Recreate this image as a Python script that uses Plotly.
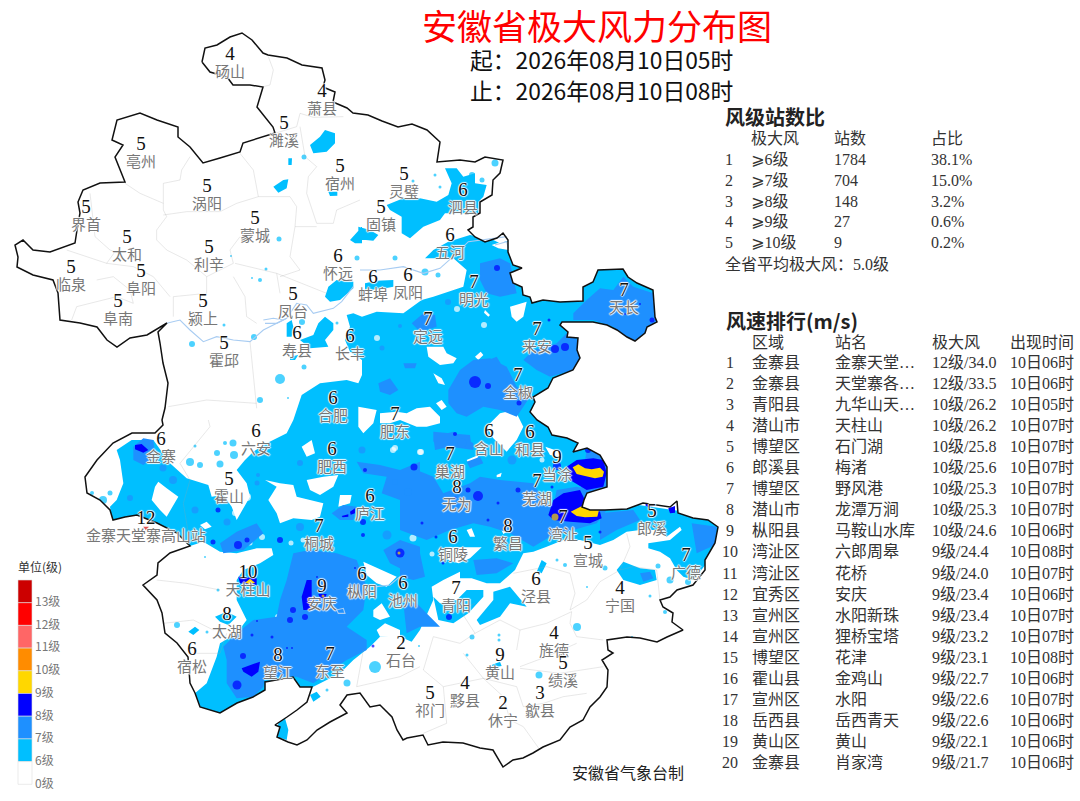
import plotly.graph_objects as go

W, H = 1080, 801

# ---------- table + legend + label data ----------
LEVEL_COLORS = ["#CC0000", "#FF0000", "#FF6666", "#FF8C00", "#FFD700", "#0000FF", "#1E90FF", "#00BFFF", "#FFFFFF"]
LEVEL_LABELS = ["13级", "12级", "11级", "10级", "9级", "8级", "7级", "6级", "0级"]

STAT_LEVEL = ["⩾6级", "⩾7级", "⩾8级", "⩾9级", "⩾10级"]
STAT_COUNT = ["1784", "704", "148", "27", "9"]
STAT_SHARE = ["38.1%", "15.0%", "3.2%", "0.6%", "0.2%"]

RANK_AREA = ["金寨县", "金寨县", "青阳县", "潜山市", "博望区", "郎溪县", "博望区", "潜山市", "枞阳县", "湾沚区",
             "湾沚区", "宜秀区", "宣州区", "宣州区", "博望区", "霍山县", "宣州区", "岳西县", "黄山区", "金寨县"]
RANK_STATION = ["金寨天堂…", "天堂寨各…", "九华山天…", "天柱山", "石门湖", "梅渚", "野风港", "龙潭万涧", "马鞍山水库", "六郎周皋",
                "花桥", "安庆", "水阳新珠", "狸桥宝塔", "花津", "金鸡山", "水阳", "岳西青天", "黄山", "肖家湾"]
RANK_WIND = ["12级/34.0", "12级/33.5", "10级/26.2", "10级/26.2", "10级/25.8", "10级/25.6", "10级/25.3", "10级/25.3", "10级/24.6", "9级/24.4",
             "9级/24.0", "9级/23.4", "9级/23.4", "9级/23.2", "9级/23.1", "9级/22.7", "9级/22.6", "9级/22.6", "9级/22.1", "9级/21.7"]
RANK_TIME = ["10日06时", "10日06时", "10日05时", "10日07时", "10日07时", "10日07时", "10日07时", "10日07时", "10日06时", "10日08时",
             "10日07时", "10日06时", "10日07时", "10日07时", "10日08时", "10日06时", "10日07时", "10日06时", "10日06时", "10日06时"]

CITY = ["砀山","萧县","濉溪","亳州","宿州","灵璧","泗县","涡阳","固镇","蒙城","界首","太和","利辛","五河","临泉","阜阳","怀远","蚌埠","凤阳","明光",
        "阜南","颍上","凤台","霍邱","寿县","长丰","定远","来安","天长","全椒","合肥","肥东","六安","金寨","含山","和县","肥西","巢湖","当涂","霍山",
        "庐江","无为","芜湖","金寨天堂寨高山站","桐城","繁昌","湾沚","郎溪","铜陵","宣城","广德","天柱山","枞阳","安庆","池州","青阳","泾县","宁国","太湖","宿松",
        "望江","东至","石台","旌德","黄山","绩溪","黟县","祁门","歙县","休宁"]
CITY_VALUE = ["4","4","5","5","5","5","6","5","5","5","5","5","5","6","5","5","6","6","6","7",
              "5","5","5","5","6","6","7","7","7","7","6","7","6","6","6","6","6","7","9","5",
              "6","8","7","12","7","8","7","5","6","5","7","10","6","9","6","7","6","4","8","6",
              "8","7","2","4","9","5","4","5","3","2"]
CITY_X = [230,322,284,141,340,404,463,207,381,255,86,127,209,450,71,141,338,373,408,474,
          118,203,293,224,297,350,428,537,624,518,333,395,256,161,489,530,332,450,557,229,
          370,457,537,146,319,508,563,652,453,588,686,248,362,322,403,456,536,620,227,192,
          278,330,401,554,500,563,465,430,540,503]
CITY_Y = [55,92,124,145,167,175,191,187,208,219,208,238,248,236,268,272,257,278,276,283,
          302,302,295,344,334,337,320,330,291,376,399,415,432,440,432,433,450,455,458,480,
          497,488,482,519,527,527,518,512,538,544,556,573,575,587,584,589,580,589,615,650,
          656,655,644,634,656,664,684,694,694,704]

# ---------- map geometry (pixel positions on the map image) ----------
PROVINCE = [(202,62),(205,48),(217,45),(230,37),(242,33),(252,40),(263,53),(268,55),(287,58),(302,65),(322,68),(325,80),(323,87),(335,92),(333,102),(347,108),(353,113),
 (368,115),(382,121),(398,127),(412,124),(427,130),(440,142),(437,162),(460,160),(475,162),(485,157),(503,160),(500,173),(493,180),(492,195),(480,202),(480,213),(473,217),(473,227),(468,230),(475,237),(485,242),(497,238),(503,233),(508,240),(508,252),(513,265),(522,268),(510,273),(513,283),(522,287),(523,295),(530,297),(532,303),(543,300),(560,302),(583,301),(583,287),(593,282),(598,270),(623,269),(628,277),(637,283),(653,290),(655,317),(657,322),(647,327),(645,333),(635,341),(627,337),(617,330),(607,325),(593,322),(573,322),(562,322),(560,325),(568,332),(567,337),(578,338),(577,350),(580,358),(573,370),(553,378),(548,388),(533,397),(535,402),(530,412),(537,420),(548,427),(552,435),(567,438),(578,443),(573,452),(587,448),(600,455),(607,467),(607,487),(587,493),(584,500),(582,507),(590,510),(605,510),(627,509),(643,503),(657,505),(670,507),(677,501),(678,513),(693,518),(708,520),(718,527),(715,543),(705,560),(705,570),(693,585),(677,590),(670,597),(660,600),(663,607),(673,613),(672,622),(683,630),(667,637),(657,642),(640,638),(627,637),(607,640),(608,650),(613,653),(602,660),(608,670),(607,687),(600,697),(590,707),(583,720),(570,727),(560,740),(543,747),(533,753),(523,758),(513,760),(503,767),(493,750),(480,748),(463,743),(443,742),(428,745),(423,735),(407,738),
 (403,740),(397,730),(392,717),(380,705),(370,707),(360,693),(347,695),(340,705),(347,713),(330,722),(317,730),(307,740),(297,745),(288,742),(277,737),(280,727),(275,725),(287,717),(297,710),(307,702),(312,687),(300,687),(293,677),(265,682),(265,690),(253,697),(237,703),(220,713),(200,707),(195,693),(190,683),(188,657),(177,643),(165,633),(162,613),(157,600),(143,585),(157,575),(158,563),(170,553),(187,547),(190,546),(177,533),(157,523),(137,515),(125,517),(113,520),(110,510),(100,500),(87,493),(85,477),(97,460),(113,443),(132,433),(155,433),(163,425),(162,420),
 (165,408),(168,383),(163,363),(160,343),(158,332),(167,323),(147,335),(130,338),(117,347),(107,340),(97,327),(80,323),(60,320),(58,293),(53,280),(33,275),(17,267),(18,257),(15,245),(23,240),(33,250),(50,252),(75,243),(77,230),(80,213),(78,202),(83,190),(100,183),(125,182),(115,157),(123,145),(112,140),(117,120),(140,113),(157,120),(178,127),(178,137),(190,147),(203,163),(220,158),(240,152),(243,143),(263,137),(275,133),(273,127),(263,115),(257,107),(263,87),(250,85),(233,85),(227,77),(210,72)]

def z(ox, oy, pts):
    return [(ox + a / 3, oy + b / 3) for a, b in pts]

Z6, Z7, Z8, Z9 = (0, 30), (360, 130), (80, 420), (400, 430)

WIND6_MAIN = (
 z(*Z8, [(345,820),(380,790),(410,710),(420,670),(470,640),(500,600),(470,540),(470,480),(490,450),(540,430),(580,405),(575,385),(530,385),(470,400),(420,395),(370,365),(330,378),(260,370),(100,330),(90,260),(110,240),(130,190),(120,120),(110,90),(155,60),(220,60),(270,130),(320,175),(385,195),(395,230),(430,225),(455,260),(470,300),(510,230),(500,190),(470,150),(495,120),(520,95),(560,70),(620,40),(640,0)])
 + z(*Z6, [(905,1095),(960,1060),(1040,1050),(1075,1060),(1086,1035),(1086,990),(1050,965),(1035,930),(1050,890),(1040,855),(1060,850),(1086,860)])
 + z(*Z7, [(50,545),(130,550),(185,510),(220,500),(310,470),(320,420),(280,385),(240,385),(195,385),(220,360),(265,335),(330,315),(400,330),(420,340),(450,330),(470,400),(560,440),(640,420),(720,380),(840,380),(950,480),(950,660),(760,720),(640,760)])
 + z(*Z9, [(640,0),(680,120),(680,220),(960,260),(960,340),(920,400),(880,450),(850,440),(830,420),(810,385),(780,365),(745,355),(745,340),(780,335),(810,330),(845,300),(840,290),(800,320),(770,300),(720,300),(680,305),(640,330),(600,345),(540,330),(490,330),(440,350),(400,365),(370,370),(345,420),(300,460),(260,460),(215,445),(180,445),(180,425),(130,450),(95,470),(100,510),(60,600),(35,635),(0,620)])
 + z(*Z8, [(960,645),(900,650),(870,680),(820,720),(780,760),(700,800),(650,830),(500,880),(350,880)])
)

WIND6_BLOBS = [
 z(*Z7, [(80,225),(130,205),(180,205),(230,215),(265,195),(275,160),(255,115),(290,115),(310,140),(345,130),(345,160),(380,165),(370,200),(355,215),(355,250),(300,250),(255,250),(240,270),(190,290),(150,325),(125,310),(125,260),(90,240)]),
 z(*Z7, [(-5,290),(30,300),(55,315),(40,332),(-5,328)]),
 z(*Z7, [(15,460),(50,452),(100,450),(100,470),(60,478),(15,480)]),
 z(*Z6, [(930,345),(960,320),(975,300),(1005,310),(1005,340),(980,365),(940,370)]),
 z(*Z6, [(820,470),(850,450),(865,448),(860,475),(835,488)]),
 z(*Z6, [(865,385),(876,385),(875,405),(865,405)]),
 z(*Z6, [(985,485),(1012,485),(1012,497),(990,498)]),
 z(*Z6, [(1050,630),(1086,590),(1086,640),(1065,640)]),
 z(*Z6, [(975,800),(985,770),(1010,750),(1060,755),(1060,775),(1020,810),(990,815)]),
 z(*Z6, [(860,880),(875,870),(880,890),(875,920),(860,920)]),
 z(*Z6, [(900,930),(940,915),(955,880),(975,860),(1000,880),(1000,900),(975,930),(985,950),(930,955)]),
 z(*Z6, [(870,980),(895,975),(885,990),(870,990)]),
 z(*Z9, [(650,420),(670,395),(720,415),(765,420),(770,450),(720,465),(670,450)]),
 z(*Z9, [(410,425),(425,390),(440,400),(425,430)]),
 z(*Z9, [(280,485),(330,470),(380,530),(330,520),(300,560),(240,585),(230,570),(280,510)]),
 z(*Z9, [(250,480),(250,500),(205,550),(160,580),(115,570),(100,500),(120,520),(170,510),(200,480)]),
 z(*Z9, [(275,705),(300,695),(305,708),(280,712)]),
 z(*Z8, [(405,590),(440,575),(470,590),(445,615),(420,605)]),
 z(*Z8, [(325,635),(345,620),(358,630),(340,645)]),
 z(*Z8, [(690,825),(710,815),(722,830),(700,845)]),
 z(*Z8, [(595,910),(615,895),(625,930),(620,960),(590,950)]),
]

WIND_HOLES = [
 z(*Z7, [(200,650),(250,650),(260,670),(290,685),(280,700),(240,705),(205,680)]),
 z(*Z7, [(345,680),(362,665),(370,675),(355,690)]),
 z(*Z7, [(450,530),(500,515),(490,560),(470,575),(455,560)]),
 z(*Z7, [(375,540),(390,555),(385,560),(372,548)]),
 z(*Z7, [(220,730),(245,745),(255,765),(235,760)]),
 z(*Z7, [(228,820),(245,810),(260,830),(245,840)]),
 z(*Z7, [(60,850),(110,845),(140,850),(170,835),(210,830),(240,860),(240,880),(200,890),(170,890),(120,870),(90,880),(60,880)]),
 z(*Z7, [(-5,830),(50,840),(40,880),(10,910),(-5,890)]),
 z(*Z7, [(380,890),(420,850),(465,840),(490,890),(470,930),(440,965),(400,925)]),
 z(*Z7, [(320,990),(355,975),(350,995),(325,1000)]),
 z(*Z7, [(556,950),(600,965),(600,980),(570,975)]),
 z(*Z7, [(395,345),(425,335),(445,335),(445,360),(415,355)]),
 z(*Z8, [(665,80),(695,60),(705,100),(680,110)]),
 z(*Z8, [(565,240),(590,200),(555,180),(600,190),(640,195),(650,230),(690,240),(730,250),(720,290),(695,300),(640,295),(600,310),(590,280)]),
 z(*Z8, [(680,180),(730,170),(775,165),(760,200),(720,225),(690,210)]),
 z(*Z8, [(780,225),(815,225),(810,250),(775,260)]),
 z(*Z8, [(225,200),(235,185),(260,205),(295,230),(260,290),(240,270),(215,240)]),
 z(*Z8, [(360,315),(380,305),(395,320),(375,328)]),
 z(*Z8, [(850,425),(885,440),(950,470),(920,500),(890,490),(860,465)]),
 z(*Z8, [(880,570),(905,550),(930,590),(900,600),(880,590)]),
 z(*Z8, [(890,630),(915,610),(960,630),(960,650),(900,650)]),
 z(*Z8, [(770,560),(785,555),(800,575),(785,585)]),
 z(*Z9, [(290,135),(305,128),(302,140),(290,142)]),
 z(*Z9, [(360,220),(385,205),(395,225),(365,232)]),
 z(*Z9, [(300,290),(325,270),(338,295),(310,312)]),
 z(*Z9, [(200,300),(215,295),(225,320),(210,320)]),
 z(*Z9, [(120,380),(150,352),(245,352),(210,385),(175,400)]),
]
HOLE_DOTS_X = [377,457,484,262,250,291,303,312,332,278,247,413,393,235,421,435,432,420,395,542,587]
HOLE_DOTS_Y = [338,309,325,537,543,543,540,569,583,617,497,538,450,513,452,522,554,452,448,460,485]
HOLE_DOTS_S = [6,6,6,6,5,5,5,6,6,6,8,7,6,6,6,7,5,6,6,5,5]

WIND6_SPOTS_X = [192,224,254,279,231,266,260,252,304,357,337,302,280,304,260,288,495,472,482,435,413,440,395,425,438,190,200,220,217,234,233,225,195,110,92,103,177,207,205,218,347,375,327,472,499,499,467,539,577,605,565,557,587,650,665,632,658,670,688,419]
WIND6_SPOTS_Y = [344,325,337,239,256,269,280,278,157,258,323,322,379,367,400,398,163,175,180,175,181,187,258,272,275,462,465,464,453,455,443,443,446,493,493,500,625,632,557,590,683,667,690,637,635,640,655,675,627,568,565,560,587,596,612,637,566,580,582,646]
WIND6_SPOTS_S = [6,3,6,5,2,3,4,2,5,5,3,6,10,5,6,2,7,6,5,3,3,3,5,7,5,8,6,7,6,8,7,4,3,5,4,8,6,3,2,3,7,12,3,5,3,3,3,7,8,5,4,3,2,3,4,2,5,7,6,2]

WIND7_AREAS = [
 z(*Z7, [(360,400),(420,385),(450,400),(470,490),(420,500),(380,490),(360,450)]),
 z(*Z7, [(155,580),(190,550),(225,555),(230,590),(180,605)]),
 z(*Z7, [(265,780),(300,720),(340,690),(390,685),(440,710),(470,770),(510,800),(470,860),(420,840),(370,830),(320,860),(290,850),(265,820)]),
 z(*Z7, [(490,690),(520,660),(590,640),(620,610),(655,630),(660,680),(640,720),(570,740),(530,720)]),
 z(*Z7, [(640,550),(680,510),(720,475),(760,480),(790,440),(820,470),(880,490),(890,580),(820,640),(760,590),(700,570),(640,570)]),
 z(*Z7, [(55,760),(90,745),(115,780),(90,795),(60,785)]),
 z(*Z7, [(220,920),(280,905),(340,940),(340,960),(270,950),(225,960)]),
 z(*Z7, [(130,700),(170,700),(165,715),(135,715)]),
 z(*Z7, [(385,690),(410,680),(425,705),(395,710)]),
 z(*Z8, [(430,680),(470,640),(520,600),(590,590),(600,540),(620,480),(640,400),(690,390),(770,400),(830,420),(860,500),(850,570),(800,620),(860,660),(860,690),(800,720),(700,790),(650,770),(555,770),(550,800),(520,830),(470,835),(440,790),(440,720)]),
 z(*Z8, [(910,390),(960,360),(1020,380),(1020,450),(970,450),(930,430)]),
 z(*Z8, [(830,125),(900,135),(960,150),(1020,125),(1020,250),(960,240),(905,220),(920,170),(850,160)]),
 z(*Z8, [(420,370),(470,335),(530,310),(550,340),(490,390),(430,400)]),
 z(*Z8, [(160,80),(190,55),(220,60),(225,110),(190,135),(160,120)]),
 z(*Z8, [(755,280),(790,255),(830,260),(820,300),(780,300)]),
 z(*Z9, [(0,150),(50,120),(100,140),(130,190),(210,160),(240,140),(300,150),(400,160),(430,210),(460,230),(470,180),(530,170),(610,190),(620,240),(590,280),(520,300),(450,320),(400,350),(330,310),(270,290),(220,280),(150,300),(80,330),(0,300)]),
 z(*Z9, [(100,5),(210,15),(215,55),(180,50),(140,35),(100,35)]),
 z(*Z9, [(220,390),(290,385),(340,400),(290,430),(230,435)]),
 z(*Z9, [(0,350),(60,370),(75,440),(40,450),(0,440)]),
 z(*Z9, [(10,520),(50,520),(90,560),(120,590),(60,590),(20,610)]),
 z(*Z9, [(600,250),(700,240),(720,270),(650,300),(600,330)]),
 z(*Z9, [(875,280),(950,290),(945,345),(890,370)]),
 z(*Z9, [(720,430),(750,425),(760,445),(730,455)]),
 z(*Z9, [(200,95),(240,80),(250,100),(210,115)]),
 z(*Z9, [(560,60),(620,75),(620,190),(540,190)]),
]
WIND7_SPOTS_X = [173,195,163,130,300,227,257,362,387,300,258,395,408,448,400,382,512,462]
WIND7_SPOTS_Y = [480,510,468,498,527,522,483,450,535,463,475,482,492,302,326,348,460,443]
WIND7_SPOTS_S = [8,7,7,6,8,7,5,7,9,6,4,6,8,6,4,5,9,9]

WIND8_AREAS = [
 z(*Z9, [(500,110),(530,90),(580,85),(610,90),(620,130),(610,170),(560,180),(510,150)]),
 z(*Z9, [(460,210),(490,190),(540,180),(555,210),(550,225),(600,245),(605,265),(570,280),(510,275),(460,270),(445,255)]),
 z(*Z9, [(735,225),(750,212),(760,228),(745,232)]),
 z(*Z9, [(805,235),(825,228),(825,248),(810,250)]),
 z(*Z8, [(680,480),(695,480),(695,530),(690,570),(670,570),(665,530)]),
 z(*Z8, [(485,745),(510,735),(540,725),(535,755),(515,770),(490,755)]),
 z(*Z8, [(475,470),(530,475),(530,495),(480,490)]),
 z(*Z8, [(165,75),(185,72),(205,90),(190,98),(165,88)]),
 z(*Z8, [(715,522),(740,522),(735,535),(720,535)]),
 z(*Z8, [(785,288),(805,283),(805,290),(788,292)]),
 z(*Z8, [(810,275),(825,265),(825,280),(812,284)]),
]
WIND8_SPOTS_X = [475,488,497,555,565,519,455,414,549,640,652,625,478,468,449,518,436,443,455,488,498,422,600,557,588,552,290,293,305,237,243,238,247,280,213,218,363,363,365,400,272,252,287,292,257,355,317,373]
WIND8_SPOTS_Y = [382,386,268,349,347,403,434,467,320,304,320,314,496,490,617,490,537,563,498,520,503,523,532,466,450,487,620,610,617,685,656,545,540,540,542,510,522,535,470,553,637,635,648,648,621,568,577,646]
WIND8_SPOTS_S = [12,6,6,8,8,5,4,7,3,2,5,2,10,5,6,5,3,3,3,3,3,3,3,8,6,3,6,6,6,9,6,8,5,6,5,5,6,4,4,9,3,3,2,2,2,2,2,3]

WIND9_AREAS = [
 z(*Z9, [(518,112),(535,103),(555,115),(575,118),(600,113),(612,125),(608,140),(585,145),(555,138),(530,132)]),
 z(*Z9, [(512,245),(530,235),(552,225),(572,232),(580,240),(597,240),(592,260),(555,262),(530,258)]),
 z(*Z8, [(495,488),(510,476),(525,488),(510,493)]),
]
WIND9_SPOTS_X = [555,399,323]
WIND9_SPOTS_Y = [517,553,596]
WIND9_SPOTS_S = [7,3,3]

HUAI_RIVER = [z(*Z6, [(500,880),(540,870),(570,900),(610,935),(650,920),(700,930),(750,935),(790,900),(860,865),(890,820),(920,825),(940,850),(1000,835),(1025,815),(1060,770)]),
 z(*Z6, [(790,870),(820,865),(850,870),(860,865),(830,880),(795,880)]),
 z(*Z7, [(0,420),(60,420),(130,410),(190,430),(240,415),(290,370),(325,335),(400,325),(440,320)]),
 z(*Z7, [(405,345),(440,335),(445,355)]),
 z(*Z8, [(890,500),(930,495),(960,470)]),
 z(*Z8, [(770,570),(790,565),(795,580),(775,580),(770,570)]),
]

COUNTY_LINES = [
 z(*Z6, p) for p in [
  [(805,80),(820,120),(810,165),(790,170)],
  [(825,310),(890,290),(900,250),(940,262),(1030,260)],
  [(900,290),(915,380),(950,410),(925,440),(920,490),(950,580),(1000,580),(1010,540),(1080,510)],
  [(720,370),(760,420),(775,500),(870,500),(890,530),(885,590),(950,590)],
  [(570,380),(545,420),(540,450),(490,460),(490,540),(500,560),(470,600),(470,630),(500,660),(560,690),(620,740),(700,700),(690,660),(720,620)],
  [(375,460),(420,490),(490,520)],
  [(490,555),(560,545),(660,545),(710,520),(775,500)],
  [(270,490),(285,620),(330,660),(345,665),(320,700)],
  [(200,660),(320,700),(400,710),(460,740),(510,800)],
  [(705,700),(830,730),(980,790)],
  [(620,740),(620,790),(520,800),(520,860)],
  [(700,740),(735,800),(740,860),(770,880)],
  [(830,730),(840,790)],
  [(290,750),(340,740),(390,780),(400,820),(350,800),(230,830),(215,870)],
  [(885,590),(870,680),(900,720),(840,740)],
  [(750,935),(760,1040),(770,1135)],
  [(505,1130),(620,1110),(770,1120)],
 ]] + [
 z(*Z9, p) for p in [
  [(340,430),(440,410),(510,430),(525,490),(510,540),(560,510),(600,455),(660,420),(690,350),(680,310)],
  [(660,420),(700,410),(770,420),(780,510)],
  [(350,660),(360,600),(440,580),(515,545),(510,580),(530,620),(610,630)],
  [(360,600),(300,570),(225,610),(180,640),(100,620),(70,720),(130,770),(250,745),(350,770),(370,830),(430,820),(400,860)],
  [(360,710),(440,680),(530,640)],
  [(360,715),(480,730),(610,710)],
  [(250,745),(190,670)],
  [(130,770),(140,880),(70,910)],
  [(250,745),(310,800),(330,870),(370,890),(420,960)],
  [(430,820),(490,800),(560,790)],
  [(225,610),(180,540),(225,520)],
 ]] + [
 z(*Z8, p) for p in [
  [(230,480),(320,490),(420,510)],
  [(250,610),(340,600),(400,630)],
  [(330,700),(420,700),(440,640)],
  [(830,800),(960,770),(1020,740)],
  [(850,690),(830,800)],
  [(300,130),(390,20),(385,0)],
  [(300,130),(330,180),(310,250),(330,370)],
 ]]

# ---------- helpers ----------
def joined(polys):
    xs, ys = [], []
    for poly in polys:
        xs += [p[0] for p in poly] + [poly[0][0], None]
        ys += [p[1] for p in poly] + [poly[0][1], None]
    return xs, ys

def opened(polys):
    xs, ys = [], []
    for poly in polys:
        xs += [p[0] for p in poly] + [None]
        ys += [p[1] for p in poly] + [None]
    return xs, ys

fig = go.Figure()

def add_fill(polys, color):
    xs, ys = joined(polys)
    fig.add_trace(go.Scatter(x=xs, y=ys, mode="lines", fill="toself", fillcolor=color,
                             line=dict(width=0, color=color), hoverinfo="skip", showlegend=False))

def add_spots(xs, ys, sizes, color):
    fig.add_trace(go.Scatter(x=xs, y=ys, mode="markers", marker=dict(size=sizes, color=color, line=dict(width=0)),
                             hoverinfo="skip", showlegend=False))

def add_text(xs, ys, texts, size, color, family, anchor="middle right", shadow=None, weight=None):
    font = dict(size=size, color=color, family=family)
    if shadow:
        font["shadow"] = shadow
    if weight:
        font["weight"] = weight
    fig.add_trace(go.Scatter(x=xs, y=ys, mode="text", text=texts, textposition=anchor,
                             textfont=font, hoverinfo="skip", showlegend=False, cliponaxis=False))

C6, C7, C8, C9 = "#00BFFF", "#1E90FF", "#0000FF", "#FFD700"
add_fill([WIND6_MAIN] + WIND6_BLOBS, C6)
add_spots(WIND6_SPOTS_X, WIND6_SPOTS_Y, WIND6_SPOTS_S, C6)
add_fill(WIND_HOLES, "#FFFFFF")
add_spots(HOLE_DOTS_X, HOLE_DOTS_Y, HOLE_DOTS_S, "#FFFFFF")
add_fill(WIND7_AREAS, C7)
add_spots(WIND7_SPOTS_X, WIND7_SPOTS_Y, WIND7_SPOTS_S, C7)
add_fill(WIND8_AREAS, C8)
add_spots(WIND8_SPOTS_X, WIND8_SPOTS_Y, WIND8_SPOTS_S, C8)
add_fill(WIND9_AREAS, C9)
add_spots(WIND9_SPOTS_X, WIND9_SPOTS_Y, WIND9_SPOTS_S, C9)

# mask that whitens everything outside the province
mask = [(0, 0), (0, H), (W, H), (W, 0), (0, 0)] + PROVINCE + [PROVINCE[0], (0, 0)]
fig.add_trace(go.Scatter(x=[p[0] for p in mask], y=[p[1] for p in mask], mode="lines", fill="toself",
                         fillcolor="#FFFFFF", line=dict(width=0, color="#FFFFFF"), hoverinfo="skip", showlegend=False))

xs, ys = opened(HUAI_RIVER)
fig.add_trace(go.Scatter(x=xs, y=ys, mode="lines", line=dict(width=1.1, color="#A8CCF2"), hoverinfo="skip", showlegend=False))
xs, ys = opened(COUNTY_LINES)
fig.add_trace(go.Scatter(x=xs, y=ys, mode="lines", line=dict(width=0.7, color="rgba(160,160,160,0.35)"), hoverinfo="skip", showlegend=False))
xs, ys = joined([PROVINCE])
fig.add_trace(go.Scatter(x=xs, y=ys, mode="lines", line=dict(width=1.5, color="#111111"), hoverinfo="skip", showlegend=False))

# station marker under the 12
fig.add_trace(go.Scatter(x=[146], y=[528], mode="markers", marker=dict(symbol="triangle-down", size=5, color="#E05050"),
                         hoverinfo="skip", showlegend=False))

# map labels
HALO = "1px 0 1px #fff,-1px 0 1px #fff,0 1px 1px #fff,0 -1px 1px #fff"
SERIF = "Liberation Serif, DejaVu Sans, Noto Sans CJK SC"
SANS = "Noto Sans CJK SC"
add_text(CITY_X, [y + 18 for y in CITY_Y], CITY, 15, "#777777", SANS, "middle center", HALO)
add_text(CITY_X, CITY_Y, CITY_VALUE, 19, "#111111", SERIF, "middle center", HALO)

# title
add_text([597], [31], ["安徽省极大风力分布图"], 35, "#FF0000", SANS, "middle center")
add_text([470, 470], [63, 94], ["起：2026年08月10日05时", "止：2026年08月10日08时"], 22.8, "#111111", SANS, "middle right")

# statistics table
BODY = 16
TXT = "#333333"
add_text([725], [120], ["风级站数比"], 20, "#222222", SANS, "middle right", weight=700)
STAT_Y = [161, 182, 203, 223, 244]
add_text([751, 834, 931], [140, 140, 140], ["极大风", "站数", "占比"], BODY, TXT, SERIF)
add_text([725] * 5, STAT_Y, [str(i + 1) for i in range(5)], BODY, TXT, SERIF)
add_text([751] * 5, STAT_Y, STAT_LEVEL, BODY, TXT, SERIF)
add_text([834] * 5, STAT_Y, STAT_COUNT, BODY, TXT, SERIF)
add_text([931] * 5, STAT_Y, STAT_SHARE, BODY, TXT, SERIF)
add_text([725], [266], ["全省平均极大风：5.0级"], BODY, TXT, SERIF)

# ranking table
add_text([726], [324], ["风速排行(m/s)"], 20, "#222222", SANS, "middle right", weight=700)
add_text([752, 835, 932, 1010], [344] * 4, ["区域", "站名", "极大风", "出现时间"], BODY, TXT, SERIF)
RANK_Y = [364 + 21.05 * i for i in range(20)]
add_text([730] * 20, RANK_Y, [str(i + 1) for i in range(20)], BODY, TXT, SERIF, "middle center")
add_text([752] * 20, RANK_Y, RANK_AREA, BODY, TXT, SERIF)
add_text([835] * 20, RANK_Y, RANK_STATION, BODY, TXT, SERIF)
add_text([932] * 20, RANK_Y, RANK_WIND, BODY, TXT, SERIF)
add_text([1010] * 20, RANK_Y, RANK_TIME, BODY, TXT, SERIF)

# legend
shapes = []
for i, c in enumerate(LEVEL_COLORS):
    top = 580 + 22.7 * i
    shapes.append(dict(type="rect", xref="x", yref="y", x0=18, x1=32, y0=top, y1=top + 22.7, fillcolor=c,
                       line=dict(width=0.6, color="#DDDDDD"), layer="above"))
add_text([35] * 9, [603 + 22.7 * i for i in range(9)], LEVEL_LABELS, 12, "#777777", SANS)
add_text([18], [569], ["单位(级)"], 12, "#333333", SANS)

add_text([572], [775], ["安徽省气象台制"], 16, "#222222", SANS)

fig.update_layout(
    width=W, height=H, margin=dict(l=0, r=0, t=0, b=0), showlegend=False,
    paper_bgcolor="#FFFFFF", plot_bgcolor="#FFFFFF", shapes=shapes,
    xaxis=dict(range=[0, W], visible=False, fixedrange=True),
    yaxis=dict(range=[H, 0], visible=False, fixedrange=True),
)
fig.write_html("out.html", config=dict(displayModeBar=False),
               post_script="document.body.style.margin='0';document.body.style.overflow='hidden';")
